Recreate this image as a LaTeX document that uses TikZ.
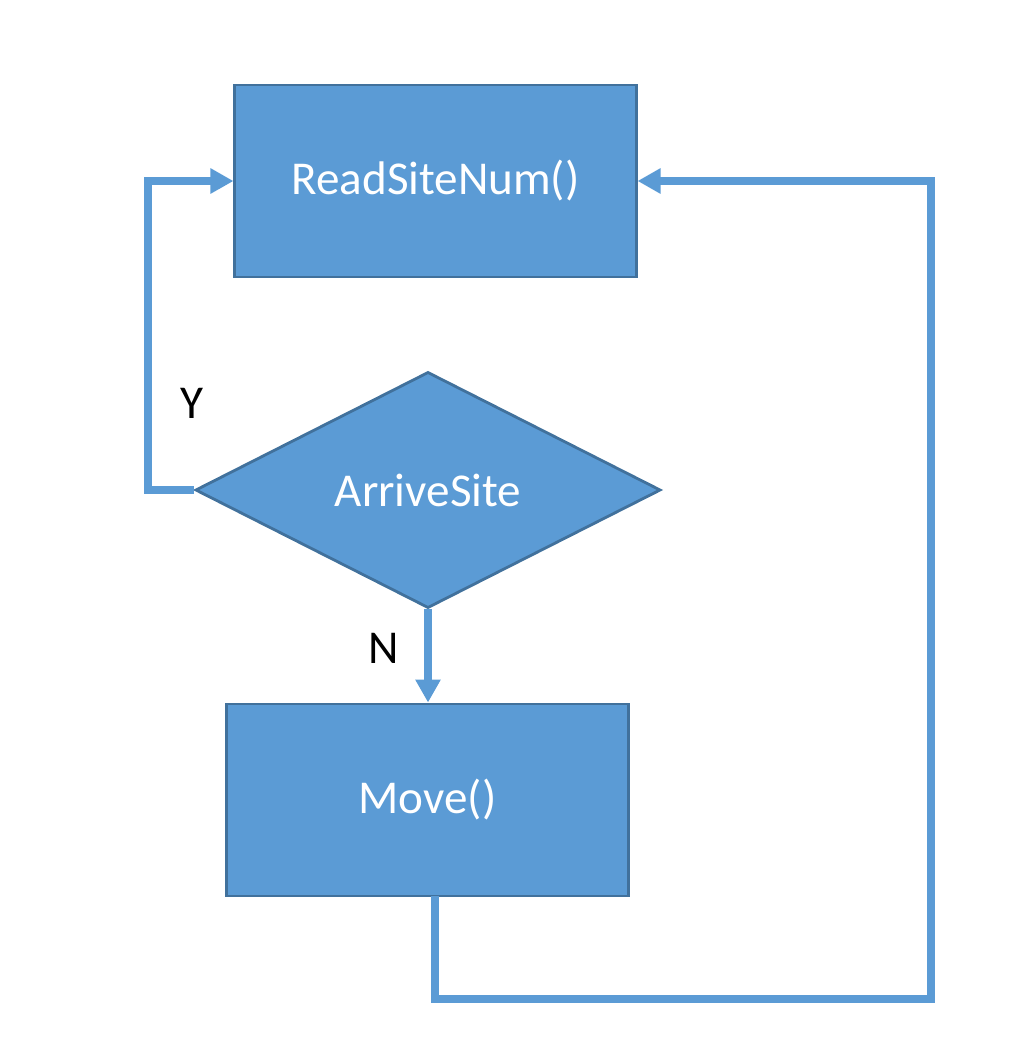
\documentclass[tikz,border=0pt]{standalone}
\usepackage{fontspec}
\setmainfont{Carlito}
\usetikzlibrary{shapes.geometric,arrows.meta}
\definecolor{fillblue}{HTML}{5B9BD5}
\definecolor{edgeblue}{HTML}{41719C}
\begin{document}
\begin{tikzpicture}[x=0.01cm,y=-0.01cm,
  procbox/.style={draw=edgeblue,fill=fillblue,line width=0.8pt,text=white,
    minimum width=4.01cm,minimum height=1.92cm,inner sep=0pt,font=\fontsize{13.4}{16}\selectfont},
  decbox/.style={diamond,draw=edgeblue,fill=fillblue,line width=0.8pt,text=white,
    minimum width=4.65cm,minimum height=2.36cm,inner sep=0pt,font=\fontsize{13.4}{16}\selectfont},
  flow/.style={draw=fillblue,line width=0.08cm,-{Triangle[length=0.23cm,width=0.24cm]}},
  lbl/.style={font=\fontsize{13.4}{16}\selectfont,text=black}]
\useasboundingbox (0,0) rectangle (1019,1054);
\node[procbox] (r) at (435.5,181) {ReadSiteNum()};
\node[decbox] (d) at (428,490) {ArriveSite};
\node[procbox] (m) at (427.5,800) {Move()};
\coordinate (yl) at (148,490);
\coordinate (yt) at (148,181);
\coordinate (ms) at (435,896);
\coordinate (mb) at (435,999);
\coordinate (rb) at (931,999);
\coordinate (rt) at (931,181);
\draw[flow] (d.west) -- (yl) -- (yt) -- (r.west);
\draw[flow] (d.south) -- (d.south |- m.north);
\draw[flow] (ms) -- (mb) -- (rb) -- (rt) -- (r.east);
\node[lbl] (ylab) at (192,403) {Y};
\node[lbl] (nlab) at (384,648) {N};
\end{tikzpicture}
\end{document}
